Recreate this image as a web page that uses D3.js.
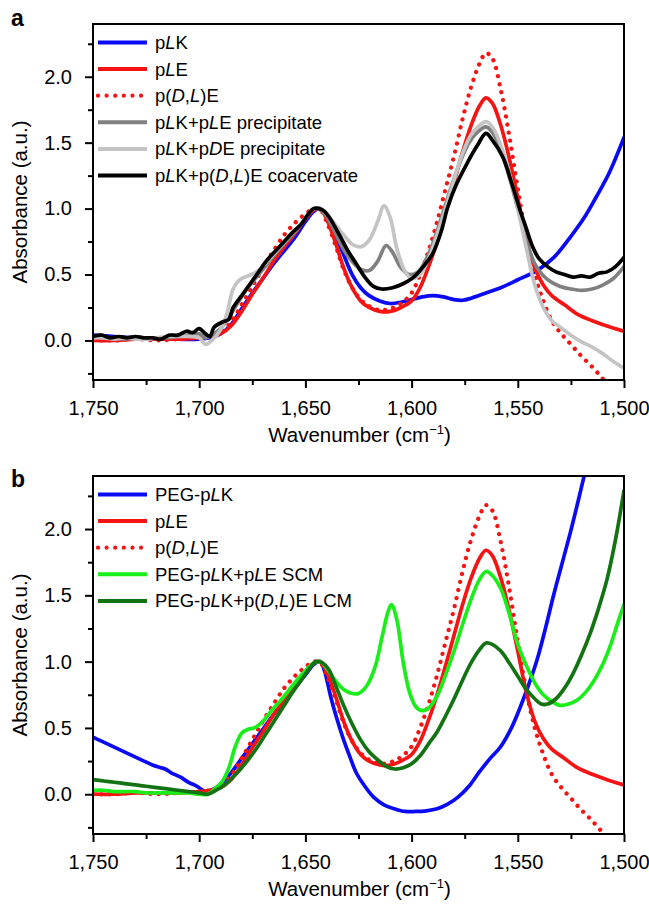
<!DOCTYPE html>
<html>
<head>
<meta charset="utf-8">
<script src="https://cdn.jsdelivr.net/npm/d3@7"></script>
<style>
  html, body { margin: 0; padding: 0; background: #fff; }
  svg { display: block; font-family: "Liberation Sans", Arial, Helvetica, sans-serif; }
</style>
</head>
<body>
<svg id="chart" width="649" height="904"></svg>
<script>
// ---------- data: [wavenumber (cm^-1), absorbance (a.u.)] ----------
const pLK = [[1750,0.04],[1740,0.03],[1730,0.02],[1720,0.02],[1710,0.01],[1700,0.01],[1695,0.02],[1690,0.05],[1685,0.12],[1680,0.24],[1675,0.36],[1670,0.47],[1665,0.58],[1660,0.68],[1655,0.78],[1650,0.9],[1646,0.98],[1643,1.0],[1640,0.93],[1636,0.8],[1632,0.65],[1628,0.5],[1624,0.4],[1620,0.34],[1615,0.3],[1610,0.28],[1605,0.29],[1600,0.31],[1595,0.33],[1590,0.34],[1585,0.33],[1580,0.31],[1576,0.305],[1572,0.32],[1565,0.36],[1558,0.4],[1550,0.46],[1541,0.53],[1533,0.63],[1525,0.79],[1518,0.95],[1513,1.09],[1507,1.27],[1500,1.54]];

const pLE = [[1750,0.0],[1740,0.0],[1730,0.01],[1720,0.01],[1710,0.01],[1700,0.02],[1695,0.03],[1690,0.05],[1685,0.11],[1680,0.22],[1675,0.35],[1670,0.47],[1665,0.6],[1660,0.71],[1655,0.81],[1650,0.92],[1646,0.99],[1643,1.0],[1640,0.92],[1636,0.75],[1632,0.55],[1628,0.4],[1624,0.3],[1620,0.25],[1615,0.22],[1610,0.22],[1605,0.25],[1600,0.3],[1596,0.4],[1592,0.56],[1588,0.75],[1584,0.97],[1580,1.2],[1576,1.43],[1572,1.63],[1568,1.78],[1565,1.84],[1562,1.8],[1558,1.63],[1554,1.38],[1550,1.08],[1546,0.77],[1542,0.55],[1538,0.42],[1534,0.34],[1528,0.27],[1522,0.2],[1515,0.15],[1508,0.11],[1500,0.07]];

const pDLE = [[1750,0.0],[1740,0.0],[1730,0.01],[1720,0.0],[1710,0.01],[1700,0.02],[1695,0.03],[1690,0.06],[1685,0.14],[1680,0.27],[1675,0.41],[1670,0.55],[1665,0.68],[1660,0.8],[1655,0.89],[1650,0.96],[1646,1.0],[1643,0.99],[1640,0.9],[1636,0.73],[1632,0.54],[1628,0.4],[1624,0.31],[1620,0.26],[1615,0.23],[1610,0.24],[1605,0.28],[1600,0.36],[1596,0.5],[1592,0.68],[1588,0.9],[1584,1.15],[1580,1.4],[1576,1.68],[1572,1.92],[1568,2.1],[1565,2.18],[1562,2.14],[1558,1.9],[1554,1.55],[1550,1.15],[1546,0.78],[1542,0.5],[1538,0.3],[1534,0.15],[1530,0.06],[1525,-0.03],[1520,-0.12],[1515,-0.2],[1510,-0.29],[1506,-0.36]];

const pLKpLEprecip = [[1750,0.03],[1745,0.02],[1740,0.02],[1735,0.01],[1730,0.02],[1725,0.01],[1720,0.02],[1715,0.02],[1710,0.03],[1705,0.04],[1700,0.05],[1697,0.02],[1694,0.04],[1690,0.09],[1686,0.18],[1682,0.28],[1678,0.38],[1673,0.48],[1668,0.58],[1663,0.68],[1658,0.77],[1653,0.86],[1649,0.95],[1646,1.0],[1643,0.99],[1640,0.94],[1636,0.82],[1632,0.69],[1628,0.6],[1624,0.54],[1620,0.53],[1616,0.6],[1612,0.72],[1609,0.67],[1605,0.55],[1601,0.5],[1597,0.52],[1593,0.62],[1589,0.78],[1585,0.98],[1581,1.18],[1577,1.36],[1573,1.5],[1569,1.58],[1565,1.62],[1562,1.58],[1558,1.44],[1554,1.24],[1550,1.0],[1546,0.76],[1542,0.58],[1538,0.49],[1534,0.44],[1530,0.41],[1525,0.39],[1520,0.38],[1515,0.39],[1510,0.42],[1505,0.47],[1500,0.56]];

const pLKpDEprecip = [[1750,0.02],[1745,0.02],[1740,0.01],[1735,0.02],[1730,0.01],[1725,0.01],[1720,0.02],[1715,0.03],[1710,0.03],[1705,0.03],[1700,0.02],[1697,-0.03],[1694,0.0],[1690,0.08],[1687,0.2],[1684,0.39],[1681,0.46],[1677,0.49],[1673,0.52],[1668,0.6],[1663,0.69],[1658,0.78],[1653,0.87],[1649,0.95],[1646,1.0],[1643,1.0],[1640,0.96],[1636,0.88],[1632,0.8],[1628,0.73],[1624,0.71],[1620,0.76],[1616,0.9],[1613,1.02],[1610,0.93],[1607,0.7],[1603,0.52],[1600,0.47],[1596,0.5],[1592,0.62],[1588,0.8],[1584,1.0],[1580,1.22],[1576,1.42],[1572,1.56],[1568,1.63],[1565,1.66],[1562,1.62],[1558,1.48],[1554,1.27],[1550,1.0],[1546,0.7],[1542,0.42],[1538,0.25],[1534,0.15],[1530,0.1],[1525,0.04],[1520,-0.01],[1515,-0.05],[1510,-0.1],[1505,-0.16],[1500,-0.21]];

const pLKpDLEcoacervate = [[1750,0.03],[1746,0.04],[1742,0.02],[1738,0.03],[1734,0.02],[1730,0.03],[1726,0.02],[1722,0.02],[1718,0.01],[1714,0.04],[1710,0.04],[1706,0.07],[1703,0.06],[1700,0.09],[1697,0.05],[1695,0.03],[1693,0.1],[1689,0.14],[1686,0.16],[1684,0.25],[1680,0.34],[1676,0.43],[1672,0.52],[1668,0.61],[1664,0.68],[1660,0.75],[1656,0.82],[1652,0.88],[1649,0.95],[1646,1.0],[1642,0.99],[1639,0.94],[1634,0.8],[1630,0.68],[1626,0.58],[1622,0.48],[1618,0.41],[1614,0.39],[1609,0.4],[1604,0.43],[1599,0.48],[1594,0.57],[1590,0.66],[1586,0.83],[1583,1.01],[1579,1.18],[1574,1.34],[1569,1.48],[1565,1.57],[1562,1.52],[1557,1.39],[1553,1.2],[1549,0.99],[1546,0.85],[1543,0.71],[1540,0.62],[1536,0.56],[1532,0.52],[1528,0.5],[1524,0.48],[1520,0.49],[1516,0.48],[1512,0.51],[1508,0.52],[1504,0.56],[1500,0.63]];

const pegPLK = [[1750,0.43],[1746,0.4],[1742,0.37],[1738,0.34],[1734,0.31],[1730,0.28],[1726,0.25],[1722,0.22],[1718,0.2],[1716,0.19],[1713,0.16],[1709,0.13],[1705,0.09],[1701,0.06],[1697,0.02],[1693,0.04],[1689,0.09],[1685,0.16],[1680,0.27],[1675,0.38],[1670,0.49],[1665,0.6],[1660,0.7],[1655,0.8],[1650,0.9],[1646,0.98],[1643,1.0],[1641,0.93],[1638,0.73],[1635,0.56],[1632,0.41],[1629,0.28],[1626,0.16],[1622,0.06],[1618,-0.02],[1613,-0.08],[1608,-0.11],[1603,-0.13],[1598,-0.13],[1593,-0.125],[1588,-0.11],[1583,-0.075],[1578,-0.02],[1573,0.06],[1568,0.17],[1563,0.27],[1558,0.36],[1553,0.5],[1549,0.65],[1545,0.82],[1541,1.01],[1537,1.25],[1533,1.51],[1529,1.75],[1525,1.99],[1521,2.25],[1517,2.52],[1513,2.8]];

const pegPLKpLEscm = [[1750,0.03],[1745,0.03],[1740,0.02],[1735,0.02],[1730,0.02],[1725,0.01],[1720,0.01],[1715,0.01],[1710,0.01],[1705,0.01],[1700,0.0],[1696,0.0],[1692,0.05],[1689,0.1],[1686,0.2],[1683,0.36],[1680,0.46],[1677,0.49],[1674,0.5],[1670,0.55],[1666,0.63],[1662,0.7],[1658,0.78],[1654,0.86],[1650,0.93],[1646,0.99],[1643,1.0],[1640,0.95],[1636,0.86],[1632,0.79],[1628,0.76],[1625,0.76],[1621,0.82],[1617,0.97],[1614,1.18],[1611,1.38],[1609.5,1.43],[1607,1.32],[1604,1.0],[1601,0.77],[1598,0.66],[1595,0.63],[1592,0.65],[1588,0.74],[1584,0.9],[1580,1.08],[1576,1.28],[1572,1.47],[1568,1.62],[1565,1.68],[1562,1.65],[1558,1.55],[1554,1.36],[1550,1.13],[1546,0.97],[1542,0.84],[1538,0.75],[1534,0.7],[1530,0.67],[1526,0.68],[1522,0.71],[1518,0.77],[1514,0.86],[1510,0.98],[1506,1.14],[1503,1.29],[1500,1.43]];

const pegPLKpDLElcm = [[1750,0.11],[1745,0.1],[1740,0.09],[1735,0.08],[1730,0.07],[1725,0.06],[1720,0.05],[1715,0.04],[1710,0.03],[1705,0.02],[1700,0.01],[1696,0.0],[1692,0.03],[1688,0.07],[1684,0.13],[1680,0.2],[1676,0.28],[1672,0.37],[1668,0.47],[1664,0.57],[1660,0.67],[1656,0.77],[1652,0.86],[1648,0.95],[1645,1.0],[1642,0.99],[1639,0.94],[1636,0.83],[1632,0.67],[1628,0.53],[1624,0.41],[1620,0.32],[1616,0.26],[1612,0.21],[1608,0.19],[1604,0.2],[1600,0.23],[1596,0.29],[1592,0.38],[1588,0.47],[1584,0.59],[1580,0.72],[1576,0.86],[1572,0.99],[1568,1.09],[1565,1.14],[1562,1.13],[1558,1.08],[1554,0.99],[1550,0.89],[1546,0.79],[1542,0.72],[1539,0.68],[1536,0.68],[1532,0.72],[1528,0.8],[1524,0.91],[1520,1.05],[1516,1.21],[1512,1.4],[1508,1.62],[1504,1.92],[1500,2.29]];

// axis ticks
const xMajorTicks = [1750, 1700, 1650, 1600, 1550, 1500];
const xMinorTicks = [1725, 1675, 1625, 1575, 1525];
const yMajorTicks = [0, 0.5, 1.0, 1.5, 2.0];
const yMinorTicks = [-0.25, 0.25, 0.75, 1.25, 1.75, 2.25];

// legend entries (italic parts marked with <i>)
const seriesA = [
  { name: "p<i>L</i>K", data: pLK, color: "#0a0af5", dotted: false },
  { name: "p<i>L</i>E", data: pLE, color: "#f51414", dotted: false },
  { name: "p(<i>D</i>,<i>L</i>)E", data: pDLE, color: "#f51414", dotted: true },
  { name: "p<i>L</i>K+p<i>L</i>E precipitate", data: pLKpLEprecip, color: "#808080", dotted: false },
  { name: "p<i>L</i>K+p<i>D</i>E precipitate", data: pLKpDEprecip, color: "#c4c4c4", dotted: false },
  { name: "p<i>L</i>K+p(<i>D</i>,<i>L</i>)E coacervate", data: pLKpDLEcoacervate, color: "#000000", dotted: false }
];
const seriesB = [
  { name: "PEG-p<i>L</i>K", data: pegPLK, color: "#0a0af5", dotted: false },
  { name: "p<i>L</i>E", data: pLE, color: "#f51414", dotted: false },
  { name: "p(<i>D</i>,<i>L</i>)E", data: pDLE, color: "#f51414", dotted: true },
  { name: "PEG-p<i>L</i>K+p<i>L</i>E SCM", data: pegPLKpLEscm, color: "#1aee1a", dotted: false },
  { name: "PEG-p<i>L</i>K+p(<i>D</i>,<i>L</i>)E LCM", data: pegPLKpDLElcm, color: "#137313", dotted: false }
];

// ---------- drawing ----------
const svg = d3.select("#chart");

function richText(sel, markup) {
  markup.split(/(<i>.*?<\/i>)/).filter(s => s.length).forEach(part => {
    const m = part.match(/^<i>(.*)<\/i>$/);
    sel.append("tspan")
      .attr("font-style", m ? "italic" : null)
      .text(m ? m[1] : part);
  });
}

function drawPanel(id, label, box, series, labelY) {
  const g = svg.append("g").attr("class", "panel-" + id);
  const x = d3.scaleLinear().domain([1750, 1500]).range([box.left, box.right]);
  const y = d3.scaleLinear().domain([-0.3, 2.4]).range([box.bottom, box.top]);

  const clipId = "clip-" + id;
  g.append("clipPath").attr("id", clipId)
    .append("rect")
    .attr("x", box.left).attr("y", box.top)
    .attr("width", box.right - box.left).attr("height", box.bottom - box.top);

  const line = d3.line()
    .x(d => x(d[0])).y(d => y(d[1]))
    .curve(d3.curveCatmullRom.alpha(0.5));

  const plot = g.append("g").attr("clip-path", `url(#${clipId})`);
  series.forEach(s => {
    plot.append("path")
      .datum(s.data)
      .attr("d", line)
      .attr("fill", "none")
      .attr("stroke", s.color)
      .attr("stroke-width", s.dotted ? 4.3 : 3.7)
      .attr("stroke-linejoin", "round")
      .attr("stroke-linecap", "round")
      .attr("stroke-dasharray", s.dotted ? "0.01 8.2" : null);
  });

  // axes
  const styleAxis = a => {
    a.select(".domain").remove();
    a.selectAll("line").attr("stroke", "#000").attr("stroke-width", 2);
    a.selectAll("text").attr("font-size", 20).attr("fill", "#000")
      .attr("font-family", "'Liberation Sans', Arial, sans-serif");
  };
  g.append("g").attr("transform", `translate(0,${box.bottom})`)
    .call(d3.axisBottom(x).tickValues(xMajorTicks).tickFormat(d3.format(",")).tickSize(8).tickPadding(13))
    .call(styleAxis);
  g.append("g").attr("transform", `translate(0,${box.bottom})`)
    .call(d3.axisBottom(x).tickValues(xMinorTicks).tickFormat("").tickSize(5))
    .call(styleAxis);
  g.append("g").attr("transform", `translate(${box.left},0)`)
    .call(d3.axisLeft(y).tickValues(yMajorTicks).tickFormat(d3.format(".1f")).tickSize(8).tickPadding(13))
    .call(styleAxis);
  g.append("g").attr("transform", `translate(${box.left},0)`)
    .call(d3.axisLeft(y).tickValues(yMinorTicks).tickFormat("").tickSize(5))
    .call(styleAxis);

  // frame
  g.append("rect")
    .attr("x", box.left).attr("y", box.top)
    .attr("width", box.right - box.left).attr("height", box.bottom - box.top)
    .attr("fill", "none").attr("stroke", "#000").attr("stroke-width", 2);

  // axis titles
  const xt = g.append("text")
    .attr("x", (box.left + box.right) / 2 + 1).attr("y", box.bottom + 62)
    .attr("text-anchor", "middle").attr("font-size", 20.5);
  xt.append("tspan").text("Wavenumber (cm");
  xt.append("tspan").attr("font-size", 13).attr("dy", -8).text("\u22121");
  xt.append("tspan").attr("dy", 8).text(")");

  g.append("text")
    .attr("transform", `translate(27,${(box.top + box.bottom) / 2}) rotate(-90)`)
    .attr("text-anchor", "middle").attr("font-size", 20.5)
    .text("Absorbance (a.u.)");

  // panel letter
  g.append("text").attr("x", 11).attr("y", labelY)
    .attr("font-size", 23).attr("font-weight", "bold").text(label);

  // legend
  const leg = g.append("g");
  series.forEach((s, i) => {
    const ly = box.top + 18.5 + i * 26.6;
    leg.append("line")
      .attr("x1", 98).attr("x2", s.dotted ? 143 : 147)
      .attr("y1", ly).attr("y2", ly)
      .attr("stroke", s.color)
      .attr("stroke-width", s.dotted ? 4.2 : 4)
      .attr("stroke-linecap", s.dotted ? "round" : "butt")
      .attr("stroke-dasharray", s.dotted ? "0.01 8.6" : null);
    const t = leg.append("text").attr("x", 155).attr("y", ly).attr("dy", "0.35em")
      .attr("font-size", 18.5);
    richText(t, s.name);
  });
}

drawPanel("a", "a", { left: 93, right: 624, top: 24, bottom: 380 }, seriesA, 26);
drawPanel("b", "b", { left: 93, right: 624, top: 476, bottom: 834 }, seriesB, 487);
</script>
</body>
</html>
